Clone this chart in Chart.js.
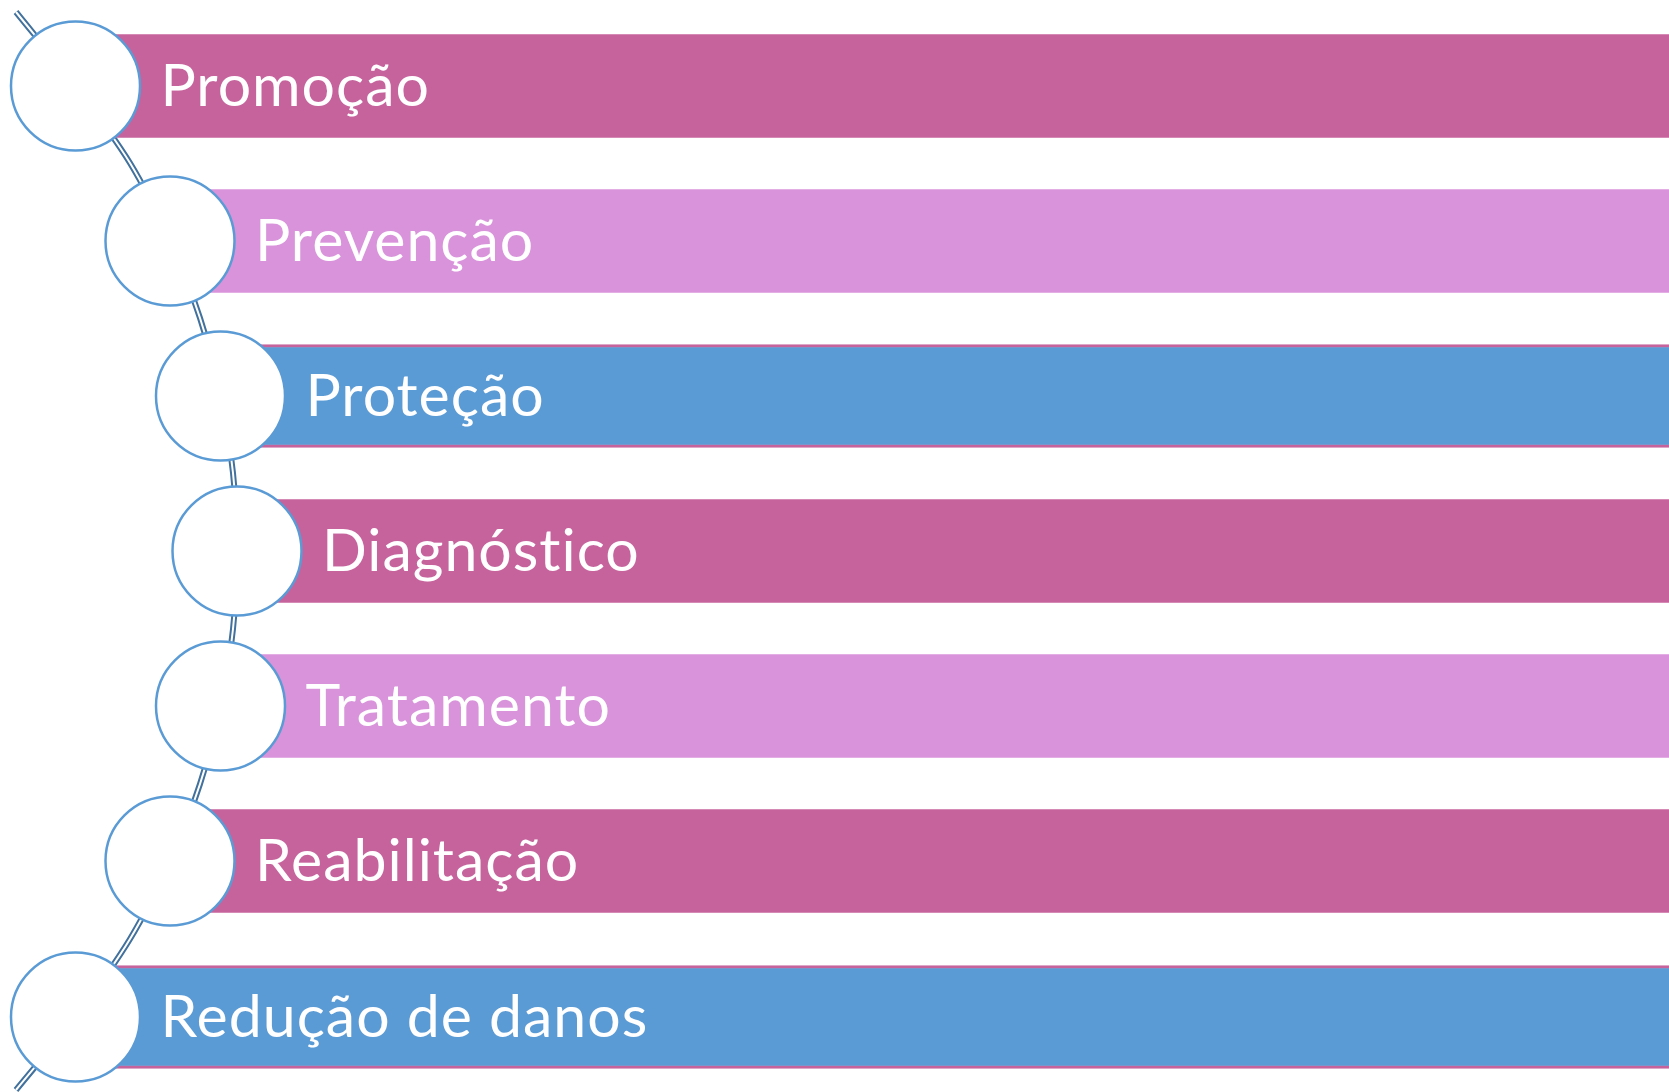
<!DOCTYPE html>
<html>
<head>
<meta charset="utf-8">
<script src="https://cdn.jsdelivr.net/npm/chart.js@4/dist/chart.umd.min.js"></script>
<style>
  html, body { margin: 0; padding: 0; background: #fff; overflow: hidden; }
  #wrap { width: 1669px; height: 1092px; }
</style>
</head>
<body>
<div id="wrap"><canvas id="chart"></canvas></div>
<script>
// rows of the diagram, top to bottom
const labels = ['Promoção', 'Prevenção', 'Proteção', 'Diagnóstico', 'Tratamento', 'Reabilitação', 'Redução de danos'];
const rowY = [86, 241, 396, 551, 706, 861, 1017];
const circleX = [75.5, 170, 220.5, 237, 220.5, 170, 75.5];
const barEnd = [1669, 1669, 1669, 1669, 1669, 1669, 1669];
const barColors = ['#c6639d', '#d893db', '#5b9bd5', '#c6639d', '#d893db', '#c6639d', '#5b9bd5'];

// the curved connector (centres plus the visible bits between circles)
const arcX = [16, 75.5, 130, 170, 200, 220.5, 233, 237, 233, 220.5, 200, 170, 130, 75.5, 16];
const arcY = [12, 86, 163, 241, 318, 396, 473, 551, 629, 706, 784, 861, 939, 1017, 1090];

const arcPoints = arcX.map((v, i) => ({ x: v, y: arcY[i] }));

const rowLabels = {
    id: 'rowLabels',
    afterDatasetsDraw(chart) {
        const ctx = chart.ctx;
        const x = chart.scales.x, y = chart.scales.y;
        ctx.save();
        ctx.fillStyle = '#ffffff';
        ctx.font = '59px Lato';
        ctx.letterSpacing = '1px';
        ctx.textBaseline = 'alphabetic';
        labels.forEach(function (t, i) {
            ctx.fillText(t, x.getPixelForValue(circleX[i] + 85), y.getPixelForValue(rowY[i]) + 20);
        });
        ctx.restore();
    }
};

new Chart(document.getElementById('chart'), {
    data: {
        datasets: [
            {
                type: 'scatter',
                data: circleX.map((v, i) => ({ x: v, y: rowY[i] })),
                pointRadius: 64.5,
                pointHoverRadius: 64.5,
                pointBackgroundColor: '#ffffff',
                pointBorderColor: '#5b9bd5',
                pointBorderWidth: 2.5,
                clip: false,
                order: 1
            },
            {
                type: 'bar',
                data: circleX.map((v, i) => ({ x: [v, barEnd[i]], y: rowY[i] })),
                backgroundColor: barColors,
                borderColor: '#c6639d',
                borderWidth: function (c) {
                    return barColors[c.dataIndex] === '#5b9bd5' ? { top: 3, bottom: 3, left: 0, right: 0 } : 0;
                },
                borderSkipped: false,
                barThickness: 103,
                grouped: false,
                order: 2
            },
            {
                type: 'line',
                data: arcPoints,
                borderColor: '#ffffff',
                borderWidth: 2,
                pointRadius: 0,
                tension: 0.3,
                clip: false,
                order: 3
            },
            {
                type: 'line',
                data: arcPoints,
                borderColor: '#41719c',
                borderWidth: 6,
                pointRadius: 0,
                tension: 0.3,
                clip: false,
                order: 4
            }
        ]
    },
    options: {
        indexAxis: 'y',
        responsive: true,
        maintainAspectRatio: false,
        animation: false,
        events: [],
        layout: { padding: 0, autoPadding: false },
        scales: {
            x: { type: 'linear', min: 0, max: 1669, offset: false, display: false },
            y: { type: 'linear', min: 0, max: 1092, reverse: true, offset: false, display: false }
        },
        plugins: {
            legend: { display: false },
            tooltip: { enabled: false }
        }
    },
    plugins: [rowLabels]
});
</script>
</body>
</html>
